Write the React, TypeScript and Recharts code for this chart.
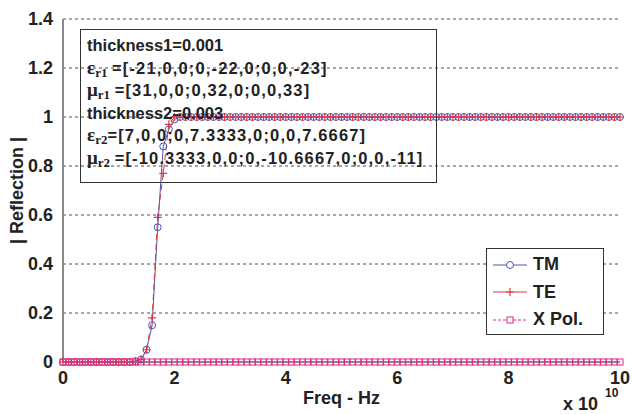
import React from 'react';
import {
  LineChart,
  Line,
  XAxis,
  YAxis,
  CartesianGrid,
} from 'recharts';

// frequency in units of 1e10 Hz
const freq = [
  0, 0.1, 0.2, 0.3, 0.4, 0.5, 0.6, 0.7, 0.8, 0.9,
  1, 1.1, 1.2, 1.3, 1.4, 1.5, 1.6, 1.7, 1.8, 1.9,
  2, 2.1, 2.2, 2.3, 2.4, 2.5, 2.6, 2.7, 2.8, 2.9,
  3, 3.1, 3.2, 3.3, 3.4, 3.5, 3.6, 3.7, 3.8, 3.9,
  4, 4.1, 4.2, 4.3, 4.4, 4.5, 4.6, 4.7, 4.8, 4.9,
  5, 5.1, 5.2, 5.3, 5.4, 5.5, 5.6, 5.7, 5.8, 5.9,
  6, 6.1, 6.2, 6.3, 6.4, 6.5, 6.6, 6.7, 6.8, 6.9,
  7, 7.1, 7.2, 7.3, 7.4, 7.5, 7.6, 7.7, 7.8, 7.9,
  8, 8.1, 8.2, 8.3, 8.4, 8.5, 8.6, 8.7, 8.8, 8.9,
  9, 9.1, 9.2, 9.3, 9.4, 9.5, 9.6, 9.7, 9.8, 9.9,
  10,
];

const tm = [
  0, 0, 0, 0, 0, 0, 0, 0, 0, 0,
  0, 0, 0, 0.003, 0.01, 0.05, 0.15, 0.55, 0.88, 0.95,
  0.99, 1, 1, 1, 1, 1, 1, 1, 1, 1,
  1, 1, 1, 1, 1, 1, 1, 1, 1, 1,
  1, 1, 1, 1, 1, 1, 1, 1, 1, 1,
  1, 1, 1, 1, 1, 1, 1, 1, 1, 1,
  1, 1, 1, 1, 1, 1, 1, 1, 1, 1,
  1, 1, 1, 1, 1, 1, 1, 1, 1, 1,
  1, 1, 1, 1, 1, 1, 1, 1, 1, 1,
  1, 1, 1, 1, 1, 1, 1, 1, 1, 1,
  1,
];

const te = [
  0, 0, 0, 0, 0, 0, 0, 0, 0, 0,
  0, 0, 0, 0.003, 0.01, 0.05, 0.18, 0.59, 0.77, 0.97,
  1, 1, 1, 1, 1, 1, 1, 1, 1, 1,
  1, 1, 1, 1, 1, 1, 1, 1, 1, 1,
  1, 1, 1, 1, 1, 1, 1, 1, 1, 1,
  1, 1, 1, 1, 1, 1, 1, 1, 1, 1,
  1, 1, 1, 1, 1, 1, 1, 1, 1, 1,
  1, 1, 1, 1, 1, 1, 1, 1, 1, 1,
  1, 1, 1, 1, 1, 1, 1, 1, 1, 1,
  1, 1, 1, 1, 1, 1, 1, 1, 1, 1,
  1,
];

const xpol = [
  0, 0, 0, 0, 0, 0, 0, 0, 0, 0,
  0, 0, 0, 0, 0, 0, 0, 0, 0, 0,
  0, 0, 0, 0, 0, 0, 0, 0, 0, 0,
  0, 0, 0, 0, 0, 0, 0, 0, 0, 0,
  0, 0, 0, 0, 0, 0, 0, 0, 0, 0,
  0, 0, 0, 0, 0, 0, 0, 0, 0, 0,
  0, 0, 0, 0, 0, 0, 0, 0, 0, 0,
  0, 0, 0, 0, 0, 0, 0, 0, 0, 0,
  0, 0, 0, 0, 0, 0, 0, 0, 0, 0,
  0, 0, 0, 0, 0, 0, 0, 0, 0, 0,
  0,
];

const xTicks = [0, 2, 4, 6, 8, 10];
const yTicks = [0, 0.2, 0.4, 0.6, 0.8, 1, 1.2, 1.4];

const data = freq.map((f, i) => ({ f, tm: tm[i], te: te[i], xpol: xpol[i] }));

const BLUE = '#4a55b0';
const RED = '#e8343c';
const PINK = '#e8238e';
const AXIS = '#8a8a8a';
const FONT = '"Liberation Sans", Arial, sans-serif';

const Plus = (props: any) => {
  const { cx, cy } = props;
  if (cx == null || cy == null) return <g key={props.key} />;
  return (
    <path
      key={props.key}
      d={`M${cx - 4},${cy}H${cx + 4}M${cx},${cy - 4}V${cy + 4}`}
      stroke={RED}
      strokeWidth={1.2}
      fill="none"
    />
  );
};

const Square = (props: any) => {
  const { cx, cy } = props;
  if (cx == null || cy == null) return <g key={props.key} />;
  return (
    <rect
      key={props.key}
      x={cx - 3}
      y={cy - 3}
      width={6}
      height={6}
      stroke={PINK}
      strokeWidth={1}
      fill="none"
    />
  );
};

const LegendBox = () => {
  const rows = [
    { name: 'TM', color: BLUE, dash: undefined, mark: 'o' },
    { name: 'TE', color: RED, dash: undefined, mark: '+' },
    { name: 'X Pol.', color: PINK, dash: '3 2', mark: 's' },
  ];
  return (
    <div
      style={{
        position: 'absolute',
        left: 486,
        top: 248,
        width: 118,
        height: 87,
        border: '1px solid #333',
        background: '#fff',
        boxSizing: 'border-box',
        paddingTop: 2,
      }}
    >
      {rows.map((r) => (
        <div key={r.name} style={{ display: 'flex', alignItems: 'center', height: 27.5 }}>
          <svg width={46} height={20} style={{ flex: 'none' }}>
            <line x1={6} x2={40} y1={10} y2={10} stroke={r.color} strokeWidth={1} strokeDasharray={r.dash} />
            {r.mark === 'o' && <circle cx={23} cy={10} r={3.5} stroke={r.color} fill="#fff" />}
            {r.mark === '+' && (
              <path d="M19,10H27M23,6V14" stroke={r.color} strokeWidth={1.2} />
            )}
            {r.mark === 's' && (
              <rect x={20} y={7} width={6} height={6} stroke={r.color} fill="#fff" />
            )}
          </svg>
          <span style={{ fontFamily: FONT, fontWeight: 700, fontSize: 18, color: '#222' }}>{r.name}</span>
        </div>
      ))}
    </div>
  );
};

const Sub = ({ sym, sub }: { sym: string; sub: string }) => (
  <>
    <span style={{ fontFamily: '"Liberation Serif", "DejaVu Serif", serif', fontSize: 19 }}>{sym}</span>
    <span style={{ fontFamily: '"Liberation Serif", "DejaVu Serif", serif', fontSize: 13, position: 'relative', top: 3 }}>{sub}</span>
  </>
);

const Mat = ({ children }: { children: string }) => (
  <span style={{ letterSpacing: '1.15px' }}>{children}</span>
);

const lineStyle = { height: 22.6, lineHeight: '22.6px', overflow: 'visible' as const };

// text annotation: outlined, no fill, so grid and curves show through
const Note = () => (
  <div
    style={{
      position: 'absolute',
      left: 80,
      top: 29,
      width: 357,
      height: 154,
      border: '1px solid #333',
      boxSizing: 'border-box',
      padding: '4px 0 0 6px',
      fontFamily: FONT,
      fontWeight: 700,
      fontSize: 16.5,
      color: '#222',
      whiteSpace: 'nowrap',
    }}
  >
    <div style={lineStyle}>thickness1=0.001</div>
    <div style={lineStyle}><Sub sym="ε" sub="r1" /> <Mat>=[-21,0,0;0,-22,0;0,0,-23]</Mat></div>
    <div style={lineStyle}><Sub sym="μ" sub="r1" /> <Mat>=[31,0,0;0,32,0;0,0,33]</Mat></div>
    <div style={lineStyle}>thickness2=0.003</div>
    <div style={lineStyle}><Sub sym="ε" sub="r2" /><Mat>=[7,0,0;0,7.3333,0;0,0,7.6667]</Mat></div>
    <div style={lineStyle}><Sub sym="μ" sub="r2" /> <Mat>=[-10.3333,0,0;0,-10.6667,0;0,0,-11]</Mat></div>
  </div>
);

const tickStyle = { fill: '#222', fontSize: 18, fontWeight: 700, fontFamily: FONT };

export default function App() {
  return (
    <div style={{ position: 'absolute', left: 0, top: 0, width: 632, height: 414, background: '#fff', overflow: 'hidden' }}>
      <LineChart
        width={632}
        height={414}
        data={data}
        margin={{ top: 19, right: 12, left: 0, bottom: 0 }}
      >
        <CartesianGrid horizontal vertical={false} stroke="#222" strokeDasharray="3 3" strokeWidth={0.8} />
        <XAxis
          xAxisId="inner"
          dataKey="f"
          type="number"
          domain={[0, 10]}
          ticks={xTicks}
          orientation="bottom"
          height={0}
          mirror
          tick={false}
          axisLine={false}
          tickLine={{ stroke: '#222' }}
          tickSize={5}
        />
        <XAxis
          dataKey="f"
          type="number"
          domain={[0, 10]}
          ticks={xTicks}
          height={52}
          tick={tickStyle}
          tickLine={false}
          axisLine={{ stroke: AXIS, strokeWidth: 2 }}
          tickMargin={3}
          label={{ value: 'Freq - Hz', position: 'insideBottom', offset: 10, style: { ...tickStyle, fill: '#222' } }}
        />
        <XAxis
          xAxisId="top"
          dataKey="f"
          type="number"
          domain={[0, 10]}
          ticks={xTicks}
          orientation="top"
          height={0}
          mirror
          tick={false}
          axisLine={{ stroke: AXIS, strokeWidth: 2 }}
          tickLine={{ stroke: '#222' }}
          tickSize={5}
        />
        <YAxis
          type="number"
          domain={[0, 1.4]}
          ticks={yTicks}
          width={63}
          tick={tickStyle}
          tickLine={false}
          tickMargin={4}
          axisLine={{ stroke: AXIS, strokeWidth: 2 }}
          label={{ value: '| Reflection |', angle: -90, position: 'insideLeft', offset: 17, style: { ...tickStyle, textAnchor: 'middle' } }}
        />
        <YAxis
          yAxisId="right"
          type="number"
          domain={[0, 1.4]}
          ticks={yTicks}
          orientation="right"
          width={0}
          mirror
          tick={false}
          axisLine={{ stroke: AXIS, strokeWidth: 2 }}
          tickLine={{ stroke: '#222' }}
          tickSize={5}
        />
        <Line
          dataKey="tm"
          stroke={BLUE}
          strokeWidth={1}
          dot={{ r: 3.5, stroke: BLUE, strokeWidth: 1, fill: 'none' }}
          isAnimationActive={false}
        />
        <Line
          dataKey="te"
          stroke={RED}
          strokeWidth={1}
          strokeDasharray="6 4"
          dot={<Plus />}
          isAnimationActive={false}
        />
        <Line
          dataKey="xpol"
          stroke={PINK}
          strokeWidth={1}
          strokeDasharray="3 2"
          dot={<Square />}
          isAnimationActive={false}
        />
      </LineChart>
      <Note />
      <LegendBox />
      <span
        style={{
          position: 'absolute',
          left: 563,
          top: 395,
          fontFamily: FONT,
          fontWeight: 700,
          fontSize: 18,
          lineHeight: '18px',
          color: '#222',
          whiteSpace: 'nowrap',
        }}
      >
        x 10
      </span>
      <span
        style={{
          position: 'absolute',
          left: 605,
          top: 386,
          fontFamily: FONT,
          fontWeight: 700,
          fontSize: 12,
          lineHeight: '14px',
          color: '#222',
        }}
      >
        10
      </span>
    </div>
  );
}
